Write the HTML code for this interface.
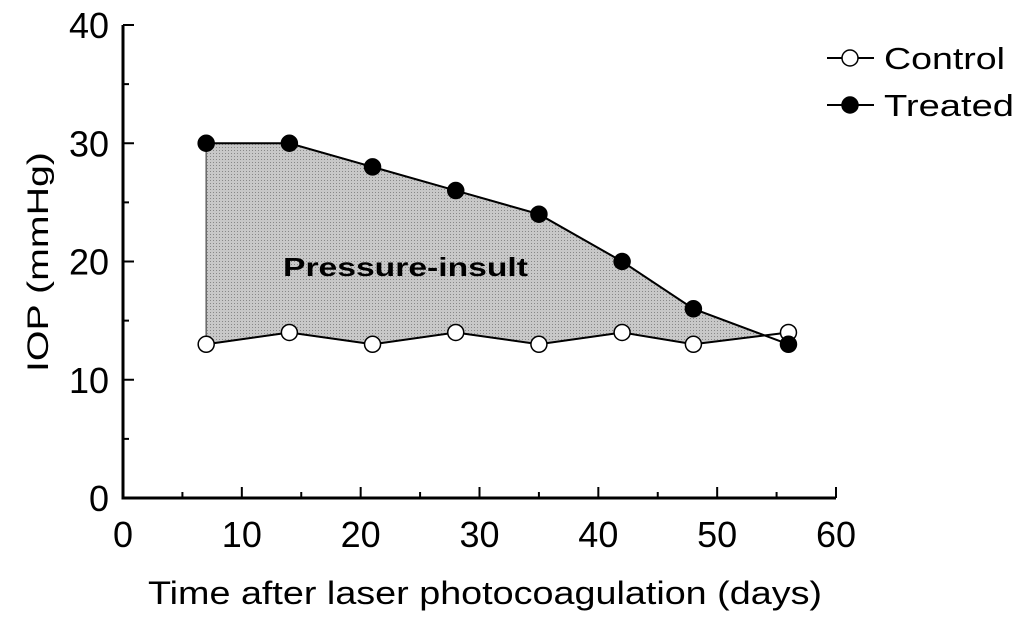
<!DOCTYPE html>
<html><head><style>
body{margin:0;background:#fff;}
svg text{font-family:"Liberation Sans",sans-serif;fill:#000;}
</style></head><body>
<svg id="c" width="1032" height="626" xmlns="http://www.w3.org/2000/svg">
<defs><pattern id="dots" width="3" height="3" patternUnits="userSpaceOnUse"><rect width="3" height="3" fill="#c8c8c8"/><rect width="1" height="1" fill="#888"/></pattern></defs>
</svg>
<script>
const days=[7,14,21,28,35,42,48,56];
const control=[13,14,13,14,13,14,13,14];
const treated=[30,30,28,26,24,20,16,13];
const xTicks=[0,10,20,30,40,50,60];
const yTicks=[0,10,20,30,40];
const svg=document.getElementById('c');
const NS='http://www.w3.org/2000/svg';
const X=v=>123+v*(836-123)/60;
const Y=v=>498-v*(498-25)/40;
function mk(t,a,p){const e=document.createElementNS(NS,t);for(const k in a)e.setAttribute(k,a[k]);(p||svg).appendChild(e);return e;}
let poly=[];let i=0;
for(;i<days.length;i++){
  if(i>0&&treated[i]<control[i]){
    const d0=treated[i-1]-control[i-1],d1=treated[i]-control[i];const t=d0/(d0-d1);
    const xi=days[i-1]+t*(days[i]-days[i-1]),yi=treated[i-1]+t*(treated[i]-treated[i-1]);
    poly.push([X(xi),Y(yi)]);break;}
  poly.push([X(days[i]),Y(treated[i])]);
}
const last=Math.min(i,days.length)-1;
for(let j=last;j>=0;j--)poly.push([X(days[j]),Y(control[j])]);
const area=mk('polygon',{points:poly.map(p=>p.join(',')).join(' '),fill:'url(#dots)',stroke:'#666','stroke-width':1.5});


const lbl=mk('text',{x:283,y:276,'font-size':26,'font-weight':'bold',textLength:245,lengthAdjust:'spacingAndGlyphs'});lbl.textContent='Pressure-insult';


const ax=mk('path',{d:`M123,25 V498 H836`,fill:'none',stroke:'#000','stroke-width':3});


for(let v=0;v<=60;v+=5){mk('line',{x1:X(v),x2:X(v),y1:498,y2:v%10?492:487,stroke:'#000','stroke-width':2});}
for(let v=0;v<=40;v+=5){mk('line',{x1:123,x2:v%10?129:134,y1:Y(v),y2:Y(v),stroke:'#000','stroke-width':2});}
xTicks.forEach(v=>{const t=mk('text',{x:X(v),y:547,'font-size':36,'text-anchor':'middle'});t.textContent=v;

});
yTicks.forEach(v=>{const t=mk('text',{x:109,y:Y(v)+13,'font-size':36,'text-anchor':'end'});t.textContent=v;

});
const xt=mk('text',{x:148,y:604,'font-size':32,textLength:674,lengthAdjust:'spacingAndGlyphs'});xt.textContent='Time after laser photocoagulation (days)';


const yt=mk('text',{x:0,y:0,'font-size':30,'text-anchor':'middle',textLength:220,lengthAdjust:'spacingAndGlyphs',transform:'translate(48,262) rotate(-90)'});yt.textContent='IOP (mmHg)';


function series(vals,fill,name){
  const l=mk('polyline',{points:days.map((d,k)=>X(d)+','+Y(vals[k])).join(' '),fill:'none',stroke:'#000','stroke-width':2});
  
  
  days.forEach((d,k)=>{const c=mk('circle',{cx:X(d),cy:Y(vals[k]),r:8,fill:fill,stroke:'#000','stroke-width':1.5});
  
  });
}
series(control,'#fff','control');
series(treated,'#000','treated');
[['Control','#fff',58,121],['Treated','#000',105,130]].forEach(([n,f,y,w])=>{
  const g=mk('g',{});
  
  
  mk('line',{x1:827,x2:874,y1:y,y2:y,stroke:'#000','stroke-width':2},g);
  mk('circle',{cx:850,cy:y,r:8,fill:f,stroke:'#000','stroke-width':1.5},g);
  const t=mk('text',{x:884,y:y+11,'font-size':31,textLength:w,lengthAdjust:'spacingAndGlyphs'},g);t.textContent=n;
});
</script>
</body></html>
